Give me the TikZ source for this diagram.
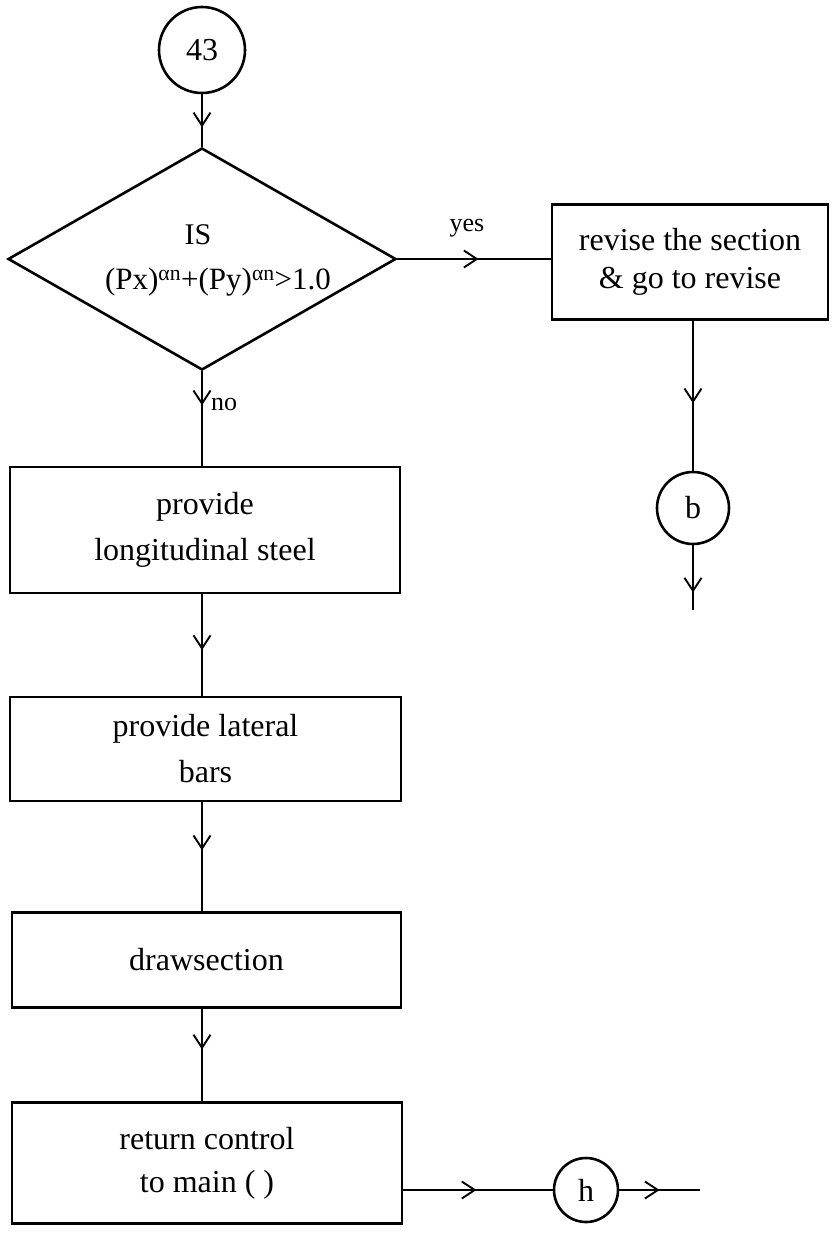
\documentclass[tikz,border=0pt]{standalone}
\usepackage{fontspec}
\setmainfont{Liberation Serif}
\usetikzlibrary{shapes.geometric,decorations.markings,arrows.meta}
\tikzset{
  lw/.style={line width=2.6pt},
  boxnode/.style={draw,lw,rectangle,inner sep=0pt,align=center,font=\fontsize{32}{46}\selectfont},
  conn/.style={draw,circle,lw,inner sep=0pt,font=\fontsize{32}{36}\selectfont},
  flow/.style={draw,lw,postaction={decorate,decoration={markings,mark=at position #1 with {\arrow{Straight Barb[length=13pt,width=17pt,line width=1.9pt]}}}}},
  lbl/.style={font=\fontsize{26}{30}\selectfont}
}
\begin{document}
\begin{tikzpicture}[x=1pt,y=-1pt]
\useasboundingbox (0,0) rectangle (834,1234);
\node[conn,minimum size=86pt] (c43) at (202,50) {43};
\node[draw,lw,diamond,minimum width=388pt,minimum height=222pt,inner sep=0pt] (dia) at (202,259) {};
\node[font=\fontsize{30}{32}\selectfont] (is) at (198,235) {IS};
\node[font=\fontsize{31}{32}\selectfont] (form) at (218,282) {(Px)\textsuperscript{αn}+(Py)\textsuperscript{αn}>1.0};
\node[boxnode,minimum width=276pt,minimum height=115pt,font=\fontsize{32}{38}\selectfont] (rev) at (690,262) {revise the section\\\& go to revise};
\node[conn,minimum size=72pt] (b) at (693,508) {b};
\coordinate (bend) at (693,610);
\node[boxnode,minimum width=390pt,minimum height=126pt] (box1) at (205,530) {provide\\longitudinal steel};
\node[boxnode,minimum width=391pt,minimum height=104pt] (box2) at (205.5,749) {provide lateral\\bars};
\node[boxnode,minimum width=389pt,minimum height=95pt] (box3) at (206.5,960) {drawsection};
\node[boxnode,minimum width=390pt,minimum height=121pt,font=\fontsize{32}{43}\selectfont] (box4) at (207,1163) {return control\\to main ( )};
\node[conn,minimum size=64pt] (h) at (586,1190) {h};
\coordinate (hend) at (700,1190);
\node[lbl] (yes) at (467,228) {yes};
\node[lbl] (no) at (224,404) {no};
\path[flow=0.63] (c43.south) -- (dia.north);
\path[flow=0.53] (dia.east) -- (dia.east -| rev.west);
\path[flow=0.55] (rev.south -| b.north) -- (b.north);
\path[flow=0.73] (b.south) -- (bend);
\path[flow=0.36] (dia.south) -- (box1.north -| dia.south);
\path[flow=0.55] (box1.south -| dia.south) -- (box2.north -| dia.south);
\path[flow=0.44] (box2.south -| dia.south) -- (box3.north -| dia.south);
\path[flow=0.44] (box3.south -| dia.south) -- (box4.north -| dia.south);
\path[flow=0.49] (h.west -| box4.east) -- (h.west);
\path[flow=0.5] (h.east) -- (hend);
\end{tikzpicture}
\end{document}
